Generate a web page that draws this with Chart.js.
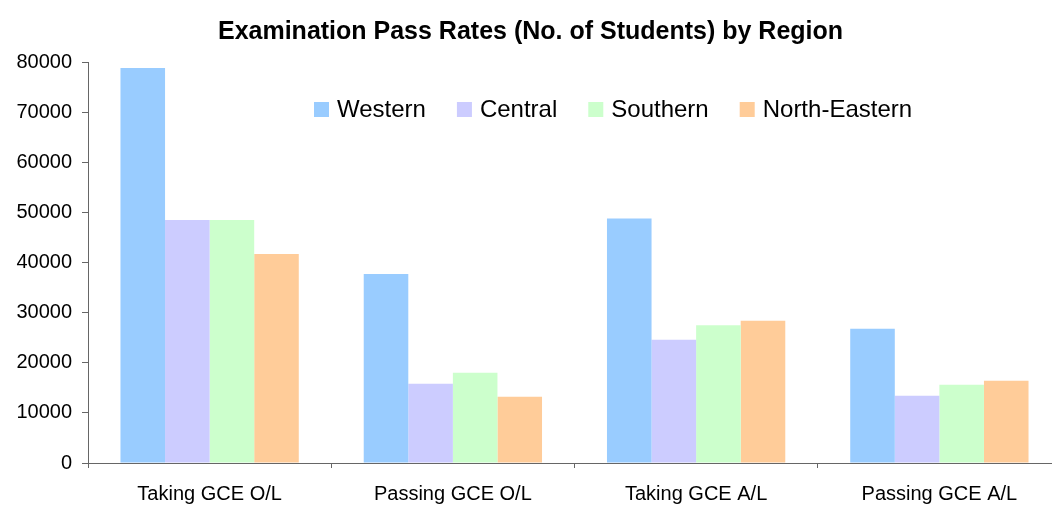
<!DOCTYPE html>
<html>
<head>
<meta charset="utf-8">
<script src="https://cdn.jsdelivr.net/npm/chart.js@4.4.1/dist/chart.umd.min.js"></script>
<style>
    html, body { margin: 0; padding: 0; background: #fff; overflow: hidden; }
    #wrap { width: 1052px; height: 505px; overflow: hidden; }
    #box { width: 1062px; height: 505px; }
</style>
</head>
<body>
<div id="wrap"><div id="box"><canvas id="passChart"></canvas></div></div>
<script>
// Chart data
const categories = ['Taking GCE O/L', 'Passing GCE O/L', 'Taking GCE A/L', 'Passing GCE A/L'];
const regions = ['Western', 'Central', 'Southern', 'North-Eastern'];
const western = [78800, 37700, 48800, 26800];
const central = [48500, 15800, 24600, 13400];
const southern = [48500, 18000, 27500, 15600];
const northEastern = [41700, 13200, 28400, 16400];
const yTicks = [0, 10000, 20000, 30000, 40000, 50000, 60000, 70000, 80000];

const colours = ['#99CCFF', '#CCCCFF', '#CCFFCC', '#FFCC99'];
const fontFamily = "'Liberation Sans', Arial, sans-serif";
const axisColour = '#666666';

// Legend drawn inside the plot, in one row
const insideLegend = {
    id: 'insideLegend',
    afterDraw(chart) {
        const ctx = chart.ctx;
        ctx.save();
        ctx.font = '24px ' + fontFamily;
        ctx.textBaseline = 'middle';
        let x = 314;
        const y = 109;
        chart.data.datasets.forEach(ds => {
            ctx.fillStyle = ds.backgroundColor;
            ctx.fillRect(x, y - 7, 15, 15);
            x += 23;
            ctx.fillStyle = '#000';
            ctx.fillText(ds.label, x, y + 1);
            x += ctx.measureText(ds.label).width + 31;
        });
        ctx.restore();
    }
};

const seriesValues = [western, central, southern, northEastern];

new Chart(document.getElementById('passChart'), {
    type: 'bar',
    data: {
        labels: categories,
        datasets: regions.map((name, i) => ({
            label: name,
            data: seriesValues[i],
            backgroundColor: colours[i],
            borderWidth: 0
        }))
    },
    options: {
        responsive: true,
        maintainAspectRatio: false,
        animation: false,
        categoryPercentage: 0.733,
        barPercentage: 1.0,
        layout: { padding: { top: 0, right: 1, bottom: 0, left: 0 } },
        plugins: {
            legend: { display: false },
            tooltip: { enabled: false },
            title: {
                display: true,
                text: 'Examination Pass Rates (No. of Students) by Region',
                color: '#000',
                font: { family: fontFamily, size: 25, weight: 'bold' },
                padding: { top: 17, bottom: 15 }
            }
        },
        scales: {
            x: {
                grid: {
                    display: true,
                    drawOnChartArea: false,
                    drawTicks: true,
                    tickLength: 5,
                    color: axisColour,
                    offset: true
                },
                border: { display: true, color: axisColour, width: 1 },
                ticks: {
                    color: '#000',
                    padding: 14,
                    font: { family: fontFamily, size: 20 }
                },
                afterFit(scale) { scale.height = 42; }
            },
            y: {
                min: 0,
                max: 80000,
                afterBuildTicks(scale) {
                    scale.ticks = yTicks.map(v => ({ value: v }));
                },
                grid: {
                    display: true,
                    drawOnChartArea: false,
                    drawTicks: true,
                    tickLength: 6,
                    color: axisColour
                },
                border: { display: true, color: axisColour, width: 1 },
                ticks: {
                    color: '#000',
                    padding: 10,
                    font: { family: fontFamily, size: 20 },
                    callback: value => String(value)
                },
                afterFit(scale) { scale.width = 88; }
            }
        }
    },
    plugins: [insideLegend]
});
</script>
</body>
</html>
